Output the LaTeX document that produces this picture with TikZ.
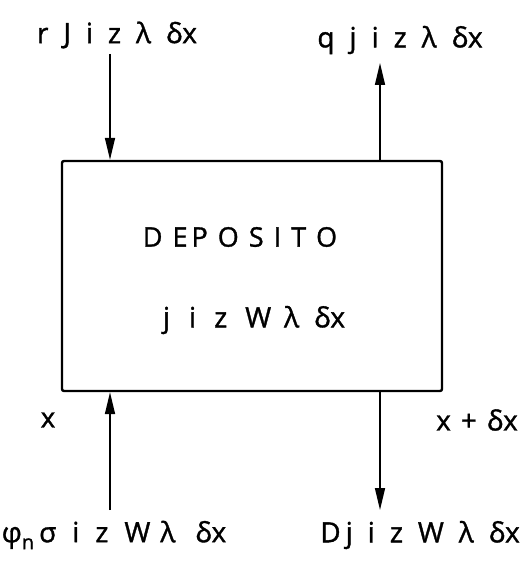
\documentclass[tikz,border=0pt]{standalone}
\usepackage{fontspec}
\setmainfont{Open Sans}[FakeBold=1.2]
\usetikzlibrary{arrows.meta}
\newcommand\gp{\hspace{15pt}}
\newcommand\ls{\hspace{10pt}}
\begin{document}
\begin{tikzpicture}[x=1pt,y=-1pt,
  lab/.style={inner sep=0pt,font=\fontsize{28}{32}\selectfont},
  flow/.style={line width=1.6pt,-{Triangle[length=22pt,width=10pt]}},
  store/.style={draw,line width=2.4pt,rounded corners=2pt,minimum width=380pt,minimum height=230pt,inner sep=0pt}]
\useasboundingbox (0,0) rectangle (524,567);
\node[store] (box) at (252,276) {};
\node[lab,font=\fontsize{27}{30}\selectfont] (name) at (240,237) {D\ls E\hspace{4pt}P\ls O\ls S\ls I\ls T\ls O};
\node[lab] (store) at (254,320) {j\hspace{19pt}i\hspace{18pt}z\hspace{18pt}W\hspace{13pt}λ\hspace{15pt}δx};
\node[lab] (rin) at (117,35) {r\gp J\gp i\gp z\gp λ\gp δx};
\node[lab] (qout) at (400,40) {q\gp j\gp i\gp z\gp λ\gp δx};
\node[lab] (fin) at (114,535) {φ\raisebox{-7pt}{\fontsize{20}{22}\selectfont n}\hspace{5pt}σ\hspace{16pt}i\hspace{16pt}z\hspace{16pt}W\hspace{10pt}λ\hspace{20pt}δx};
\node[lab] (dout) at (420,535) {D\hspace{5pt}j\gp i\gp z\gp W\gp λ\gp δx};
\node[lab] (xl) at (48,420) {x};
\node[lab] (xr) at (477,420) {x\hspace{10pt}+\hspace{10pt}δx};
\coordinate (a1) at (110,54);
\coordinate (a2) at (380,63);
\coordinate (a3) at (110,510);
\coordinate (a4) at (380,510);
\draw[flow] (a1) -- (a1 |- box.north);
\draw[flow] (a2 |- box.north) -- (a2);
\draw[flow] (a3) -- (a3 |- box.south);
\draw[flow] (a4 |- box.south) -- (a4);
\end{tikzpicture}
\end{document}
